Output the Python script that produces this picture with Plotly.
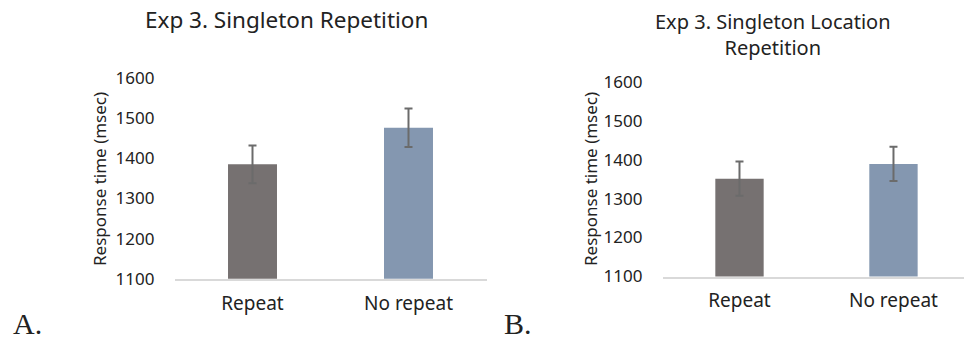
import plotly.graph_objects as go

categories = ["Repeat", "No repeat"]
a_values = [1385, 1476]
a_errors = [47, 48]
b_values = [1351, 1389]
b_errors = [44, 44]
y_ticks = [1100, 1200, 1300, 1400, 1500, 1600]
bar_colors = ["#767171", "#8497B0"]

W, H = 964, 341
FONT = "Noto Sans"
TXT = "#222222"

fig = go.Figure()
fig.add_trace(go.Bar(x=categories, y=a_values, marker=dict(color=bar_colors, line=dict(width=0)),
                     error_y=dict(type="data", array=a_errors, color="#6b6b6b", thickness=2, width=4),
                     xaxis="x", yaxis="y", showlegend=False))
fig.add_trace(go.Bar(x=categories, y=b_values, marker=dict(color=bar_colors, line=dict(width=0)),
                     error_y=dict(type="data", array=b_errors, color="#6b6b6b", thickness=2, width=4),
                     xaxis="x2", yaxis="y2", showlegend=False))

def px_x(p):
    return p / W

def px_y(p):
    return 1 - p / H

ax_common = dict(showgrid=False, zeroline=False, showline=True, linecolor="#d9d9d9", linewidth=2,
                 ticks="", tickfont=dict(family=FONT, size=19, color=TXT), fixedrange=True,
                 automargin=False, ticklabelstandoff=6)
ay_common = dict(showgrid=False, zeroline=False, showline=False, range=[1100, 1600],
                 tickvals=y_ticks, ticktext=[str(v) for v in y_ticks],
                 tickfont=dict(family=FONT, size=17, color=TXT), ticklabelstandoff=19,
                 automargin=False, fixedrange=True)

fig.update_layout(
    width=W, height=H, autosize=False,
    margin=dict(l=0, r=0, t=0, b=0, pad=0, autoexpand=False),
    paper_bgcolor="white", plot_bgcolor="white", bargap=0.686,
    xaxis=dict(domain=[px_x(174.5), px_x(486.5)], range=[-0.5, 1.5], anchor="y", **ax_common),
    yaxis=dict(domain=[px_y(278.7), px_y(78)], anchor="x", **ay_common),
    xaxis2=dict(domain=[px_x(662.5), 1.0], range=[-0.5, 1.458], anchor="y2", **ax_common),
    yaxis2=dict(domain=[px_y(276.5), px_y(81.7)], anchor="x2", **ay_common),
)

ann = [
    dict(text="Exp 3. Singleton Repetition", x=px_x(286), y=px_y(20), size=22.5, family=FONT),
    dict(text="Exp 3. Singleton Location<br>Repetition", x=px_x(773), y=px_y(34), size=20, family=FONT),
    dict(text="A.", x=px_x(27), y=px_y(323), size=30, family="Liberation Serif"),
    dict(text="B.", x=px_x(518), y=px_y(323), size=30, family="Liberation Serif"),
]
for a in ann:
    fig.add_annotation(text=a["text"], x=a["x"], y=a["y"], xref="paper", yref="paper",
                       xanchor="center", yanchor="middle", showarrow=False,
                       font=dict(family=a["family"], size=a["size"], color=TXT))
for xc, yc in [(99, 179), (590, 179)]:
    fig.add_annotation(text="Response time (msec)", x=px_x(xc), y=px_y(yc), xref="paper", yref="paper",
                       xanchor="center", yanchor="middle", showarrow=False, textangle=-90,
                       font=dict(family=FONT, size=17, color=TXT))

fig.write_html("out.html", config={"displayModeBar": False},
               post_script="document.body.style.margin='0';document.body.style.overflow='hidden';")
